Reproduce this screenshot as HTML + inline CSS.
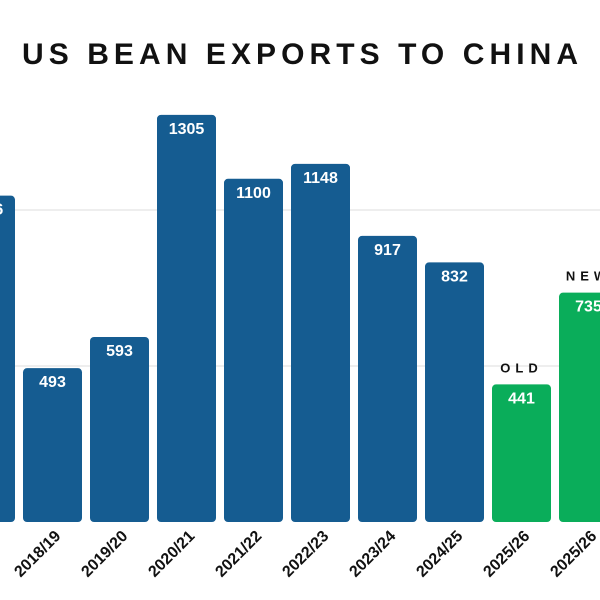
<!DOCTYPE html>
<html><head><meta charset="utf-8"><style>
html,body{margin:0;padding:0;background:#fff;}
svg{display:block;font-family:"Liberation Sans",sans-serif;}
</style></head><body>
<svg id="chart" width="600" height="600" viewBox="0 0 600 600">
<text x="22" y="64" font-size="30" font-weight="bold" textLength="556" lengthAdjust="spacing" fill="#111">US BEAN EXPORTS TO CHINA</text>
<g id="grid"></g><g id="bars"></g><g id="labels"></g>
</svg>
<script>
const categories=["2017/18","2018/19","2019/20","2020/21","2021/22","2022/23","2023/24","2024/25","2025/26","2025/26"];
const values=[1046,493,593,1305,1100,1148,917,832,441,735];
const colors=["#155c91","#155c91","#155c91","#155c91","#155c91","#155c91","#155c91","#155c91","#0aad5a","#0aad5a"];
const notes=["","","","","","","","","OLD","NEW"];
const gridTicks=[500,1000];
const NS="http://www.w3.org/2000/svg";
const base=522,k=0.312,x0=-44,pitch=67,bw=59;
const y=v=>base-v*k, x=i=>x0+i*pitch;
function mk(t,a,p){const e=document.createElementNS(NS,t);for(const n in a)e.setAttribute(n,a[n]);p.appendChild(e);return e;}
const g=document.getElementById('grid'),b=document.getElementById('bars'),l=document.getElementById('labels');
gridTicks.forEach(v=>{const e=mk('line',{x1:0,x2:600,y1:y(v),y2:y(v),stroke:'#dedede','stroke-width':1},g);

});
values.forEach((v,i)=>{
const r=mk('rect',{x:x(i),y:y(v),width:bw,height:base-y(v),rx:4,fill:colors[i]},b);


const t=mk('text',{x:x(i)+bw/2,y:y(v)+19,'text-anchor':'middle','font-size':16,'font-weight':'bold',fill:'#fff'},l);t.textContent=v;


const cx=x(i)+bw/2+9,cy=537;
const c=mk('text',{x:cx,y:cy,'text-anchor':'end','font-size':16,'font-weight':'bold',fill:'#111',transform:`rotate(-45 ${cx} ${cy})`},l);c.textContent=categories[i];


if(notes[i]){const n=mk('text',{x:x(i)+bw/2,y:y(v)-12,'text-anchor':'middle','font-size':13,'font-weight':'bold','letter-spacing':5,fill:'#111'},l);n.textContent=notes[i];

}
});
</script>
</body></html>
